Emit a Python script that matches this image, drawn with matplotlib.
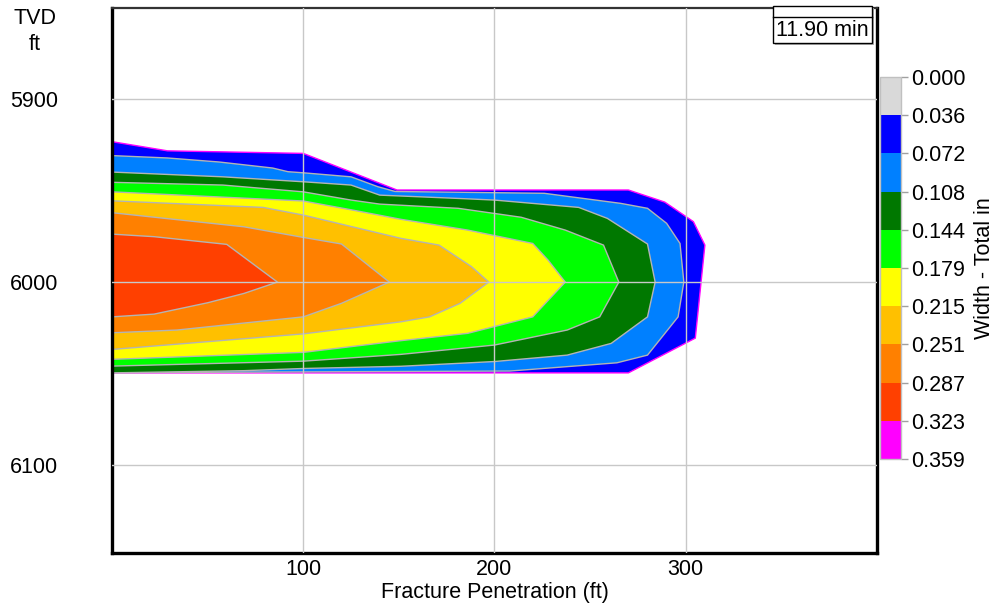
import matplotlib
matplotlib.use("Agg")
import matplotlib.pyplot as plt
from matplotlib.colors import ListedColormap, BoundaryNorm
from matplotlib.cm import ScalarMappable
from matplotlib.patches import Rectangle
from matplotlib.lines import Line2D

plt.rcParams["font.family"] = ["Liberation Sans", "DejaVu Sans"]
FS = 15.5

# Width scale (in) and band colours
width_levels = [0.000, 0.036, 0.072, 0.108, 0.144, 0.179, 0.215, 0.251, 0.287, 0.323, 0.359]
band_colors = ["#d9d9d9", "#0000ff", "#0080ff", "#007800", "#00ff00",
               "#ffff00", "#ffc000", "#ff8000", "#ff4000", "#ff00ff"]

# Width contours: fracture penetration (ft) vs TVD (ft), outermost first
w036_x = [0, 29, 100, 149, 270, 289, 304, 310, 305, 270, 0]
w036_y = [5923.3, 5928.3, 5929.7, 5949.7, 5949.7, 5956.3, 5967.0, 5979.8, 6030.6, 6049.6, 6049.6]

w072_x = [0, 29, 56, 84, 92, 100, 125, 139, 148, 226, 266, 280, 290, 297, 299, 296, 280, 264,
          208, 0]
w072_y = [5930.9, 5932.2, 5934.4, 5937.7, 5939.7, 5940.3, 5942.5, 5947.9, 5950.5, 5951.5,
          5957.0, 5959.7, 5967.9, 5978.9, 6000.0, 6019.0, 6039.9, 6044.1, 6048.6, 6049.5]

w108_x = [0, 58, 100, 125, 140, 181, 200, 244, 259, 280, 284, 280, 261, 238, 200, 151, 100,
          69, 0]
w108_y = [5939.9, 5942.5, 5945.2, 5947.0, 5952.5, 5954.3, 5955.2, 5959.2, 5965.2, 5979.2,
          6000.0, 6019.0, 6033.5, 6039.9, 6043.4, 6046.0, 6047.2, 6048.4, 6049.6]

w144_x = [0, 58, 100, 125, 140, 181, 214, 237, 257, 265, 255, 238, 200, 151, 100, 0]
w144_y = [5945.5, 5947.0, 5950.7, 5955.2, 5957.4, 5959.7, 5964.6, 5971.6, 5979.8, 6000.0,
          6019.0, 6026.2, 6034.4, 6039.5, 6043.2, 6045.9]

w179_x = [0, 100, 126, 151, 186, 220, 228, 237, 220, 186, 151, 100, 0]
w179_y = [5950.7, 5955.7, 5960.7, 5965.7, 5971.6, 5978.9, 5988.0, 6000.0, 6019.0, 6028.0,
          6032.0, 6038.4, 6042.2]

w215_x = [0, 79, 100, 151, 171, 188, 197, 182, 166, 151, 100, 0]
w215_y = [5955.6, 5959.2, 5963.4, 5976.1, 5979.8, 5991.6, 6000.0, 6011.6, 6019.0, 6021.7,
          6028.3, 6036.8]

w251_x = [0, 69, 100, 120, 145, 120, 100, 34, 0]
w251_y = [5962.1, 5969.8, 5975.6, 5979.2, 6000.0, 6011.6, 6019.0, 6026.2, 6027.7]

w287_x = [0, 22, 60, 86.5, 69, 50, 22, 0]
w287_y = [5973.8, 5975.2, 5979.4, 6000.0, 6006.2, 6011.3, 6017.5, 6019.0]

contours = [(w036_x, w036_y), (w072_x, w072_y), (w108_x, w108_y), (w144_x, w144_y),
            (w179_x, w179_y), (w215_x, w215_y), (w251_x, w251_y), (w287_x, w287_y)]

x_ticks = [100, 200, 300]
y_ticks = [5900, 6000, 6100]
time_label = "11.90 min"

W, H = 995, 608
fig = plt.figure(figsize=(W / 100, H / 100), dpi=100)
ax = fig.add_axes([112 / W, 1 - 553 / H, (877 - 112) / W, (553 - 7.5) / H])

for i, (cx, cy) in enumerate(contours):
    edge = "#ff00ff" if i == 0 else "#b4b4b4"
    ax.fill(cx, cy, facecolor=band_colors[i + 1], edgecolor=edge, linewidth=1.0)

ax.set_xlim(0, 400)
ax.set_ylim(6148, 5850)
ax.set_xticks(x_ticks)
ax.set_yticks(y_ticks)
ax.set_axisbelow(False)
ax.grid(True, color="#c8c8c8", linewidth=1.0)
ax.tick_params(axis="both", length=0, labelsize=FS)
ax.tick_params(axis="y", pad=39)
ax.tick_params(axis="x", pad=4)
ax.set_xlabel("Fracture Penetration (ft)", fontsize=FS, labelpad=2)

for side in ("left", "bottom", "right"):
    ax.spines[side].set_linewidth(2.4)
    ax.spines[side].set_color("black")
ax.spines["top"].set_linewidth(1.6)
ax.spines["top"].set_color("#333333")

fig.text(35 / W, 1 - 18 / H, "TVD", ha="center", va="center", fontsize=FS)
fig.text(35 / W, 1 - 45 / H, "ft", ha="center", va="center", fontsize=FS)

# Elapsed-time box
bx0, by0, bx1, by1 = 773, 6, 872, 42.5
fig.patches.append(Rectangle(((bx0 + 2) / W, 1 - (by1 + 2) / H), (bx1 - bx0) / W, (by1 - by0) / H,
                             transform=fig.transFigure, facecolor="#b0b0b0", edgecolor="none",
                             zorder=5))
fig.patches.append(Rectangle((bx0 / W, 1 - by1 / H), (bx1 - bx0) / W, (by1 - by0) / H,
                             transform=fig.transFigure, facecolor="white", edgecolor="black",
                             linewidth=1.0, zorder=6))
fig.lines.append(Line2D([bx0 / W, bx1 / W], [1 - 17 / H, 1 - 17 / H], transform=fig.transFigure,
                        color="black", linewidth=1.0, zorder=7))
fig.text((bx0 + bx1) / 2 / W, 1 - 30 / H, time_label, ha="center", va="center",
         fontsize=FS, zorder=8)

# Colour scale
cmap = ListedColormap(band_colors)
norm = BoundaryNorm(width_levels, cmap.N)
cax = fig.add_axes([880 / W, 1 - 459 / H, 21 / W, 382 / H])
cb = fig.colorbar(ScalarMappable(norm=norm, cmap=cmap), cax=cax, ticks=width_levels,
                  drawedges=True)
cax.invert_yaxis()
cb.ax.set_yticklabels([f"{v:.3f}" for v in width_levels])
cb.ax.tick_params(labelsize=FS, length=5, width=1, color="#a0a0a0", pad=2)
cb.outline.set_edgecolor("#c0c0c0")
cb.outline.set_linewidth(1.0)
cb.dividers.set_color("#c0c0c0")
cb.dividers.set_linewidth(1.0)
cb.set_label("Width - Total in", fontsize=FS, labelpad=6)

fig.savefig("out.png", dpi=100)
